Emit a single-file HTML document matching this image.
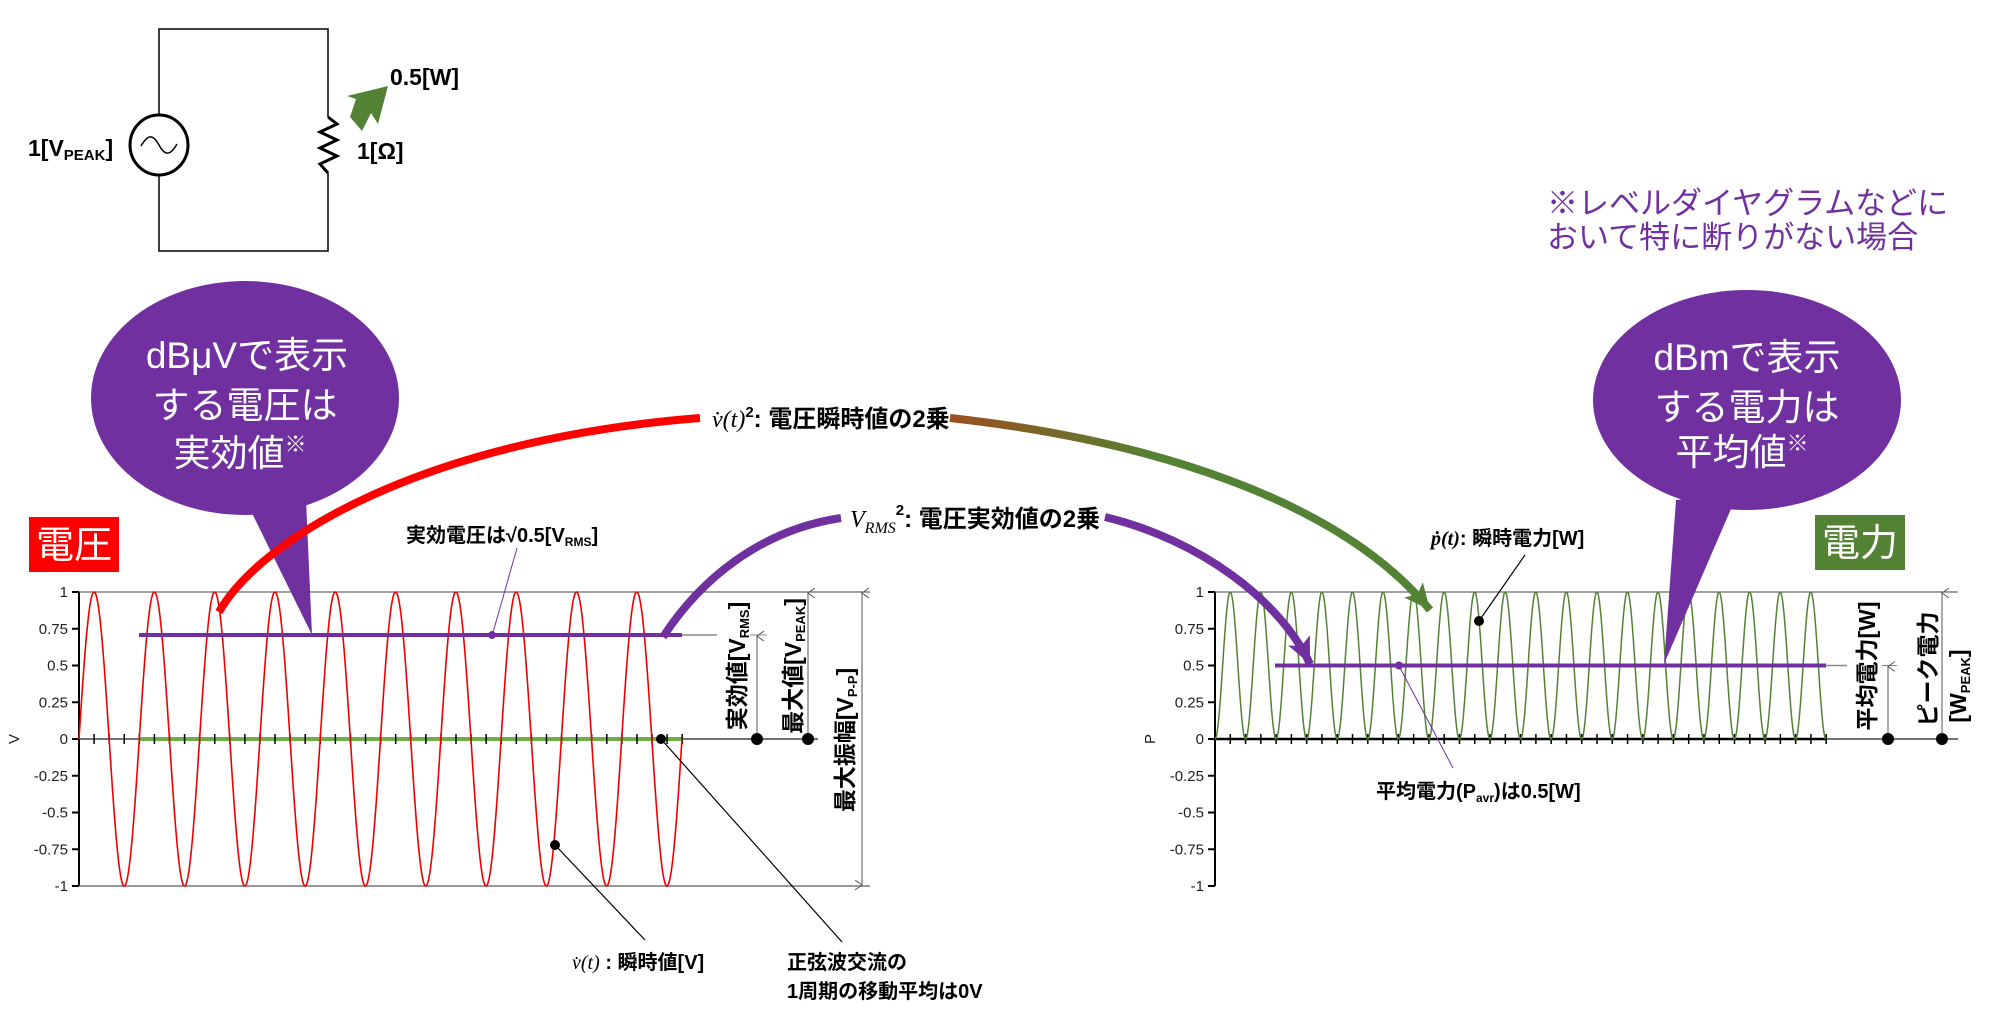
<!DOCTYPE html>
<html><head><meta charset="utf-8">
<style>
html,body{margin:0;padding:0;background:#fff;width:2000px;height:1014px;overflow:hidden}
svg{display:block}
text{font-family:"Liberation Sans Narrow","Liberation Sans","Noto Sans CJK JP",sans-serif}
.b{font-weight:bold}
.ax{font-size:15px;fill:#222}
.cj{font-family:"Liberation Sans","Noto Sans CJK JP",sans-serif}
</style></head>
<body>
<svg id="s" width="2000" height="1014" viewBox="0 0 2000 1014" xmlns="http://www.w3.org/2000/svg">
<defs>
<linearGradient id="gb" gradientUnits="userSpaceOnUse" x1="950" y1="0" x2="1160" y2="0">
<stop offset="0" stop-color="#9a4f1e"/><stop offset="1" stop-color="#548235"/></linearGradient>
<marker id="ag" markerUnits="userSpaceOnUse" markerWidth="30" markerHeight="30" refX="26" refY="12" orient="auto"><path d="M0,0 L26,12 L0,24 L6,12Z" fill="#548235"/></marker>
<marker id="ap" markerUnits="userSpaceOnUse" markerWidth="30" markerHeight="30" refX="26" refY="12" orient="auto"><path d="M0,0 L26,12 L0,24 L6,12Z" fill="#7030A0"/></marker>
<marker id="ah" markerUnits="userSpaceOnUse" markerWidth="12" markerHeight="12" refX="5" refY="1" orient="auto-start-reverse"><path d="M0,8 L5,1 L10,8" fill="none" stroke="#555" stroke-width="1"/></marker>
</defs>

<!-- circuit -->
<g stroke="#000" fill="none">
<path d="M159,115 V29 H328 V117 M328,173 V251 H159 V175" stroke-width="1.5"/>
<ellipse cx="159" cy="145" rx="29" ry="30" stroke-width="3" fill="#fff"/>
<path d="M141,146 C148,134 153,134 159,145 C165,156 170,156 177,144" stroke-width="1.5"/>
<path d="M328,117 L337,124 L320,132 L337,140 L320,148 L337,156 L320,164 L328,173" stroke-width="3"/>
</g>
<polygon points="350,117 356,99 347,96 388,86 378,124 371,113 362,131" fill="#548235"/>
<text x="28" y="156" font-size="23" class="b">1[V<tspan font-size="15" dy="4">PEAK</tspan><tspan dy="-4">]</tspan></text>
<text x="357" y="159" font-size="23" class="b">1[Ω]</text>
<text x="390" y="85" font-size="23" class="b">0.5[W]</text>

<!-- note -->
<text class="cj" x="1547" y="214" font-size="31" fill="#7030A0">※レベルダイヤグラムなどに</text>
<text class="cj" x="1547" y="248" font-size="31" fill="#7030A0">おいて特に断りがない場合</text>

<!-- left chart axes -->
<g id="left"></g>
<g id="right"></g>

<!-- bubbles -->
<g fill="#7030A0">
<ellipse cx="245" cy="398" rx="154" ry="117"/>
<polygon points="248,505 306,500 312,635"/>
<ellipse cx="1747" cy="400" rx="154" ry="110"/>
<polygon points="1676,500 1737,495 1664,664"/>
</g>
<g class="cj" fill="#fff" font-size="37" text-anchor="middle">
<text x="247" y="368">dBμVで表示</text>
<text x="245" y="418">する電圧は</text>
<text x="240" y="466">実効値<tspan font-size="22" dy="-14">※</tspan></text>
<text x="1747" y="370">dBmで表示</text>
<text x="1747" y="420">する電力は</text>
<text x="1742" y="465">平均値<tspan font-size="22" dy="-14">※</tspan></text>
</g>

<!-- title boxes -->
<rect x="29" y="517" width="90" height="55" fill="#f00"/>
<text class="cj" x="74" y="558" font-size="38" fill="#fff" text-anchor="middle">電圧</text>
<rect x="1815" y="515" width="90" height="55" fill="#548235"/>
<text class="cj" x="1860" y="556" font-size="38" fill="#fff" text-anchor="middle">電力</text>

<!-- curves -->
<path d="M219,612 C260,540 420,440 700,418" stroke="#f00" stroke-width="8" fill="none"/>
<path d="M950,418 C1150,440 1340,500 1430,610" stroke="url(#gb)" stroke-width="8" fill="none" marker-end="url(#ag)"/>
<path d="M663,637 C700,580 760,530 841,518" stroke="#7030A0" stroke-width="8" fill="none"/>
<path d="M1105,517 C1200,540 1280,600 1310,664" stroke="#7030A0" stroke-width="8" fill="none" marker-end="url(#ap)"/>

<text x="712" y="427" font-size="24" class="b"><tspan font-family="Liberation Serif" font-style="italic" font-weight="normal">v̇(t)</tspan><tspan font-size="15" dy="-10">2</tspan><tspan dy="10">: 電圧瞬時値の2乗</tspan></text>
<text x="850" y="527" font-size="24" class="b"><tspan font-family="Liberation Serif" font-style="italic" font-weight="normal">V<tspan font-size="16" dy="6">RMS</tspan></tspan><tspan font-size="15" dy="-18">2</tspan><tspan dy="12">: 電圧実効値の2乗</tspan></text>

<!-- labels -->
<text x="406" y="542" font-size="20" class="b">実効電圧は√0.5[V<tspan font-size="12" dy="4">RMS</tspan><tspan dy="-4">]</tspan></text>
<line x1="517" y1="548" x2="492" y2="636" stroke="#7030A0" stroke-width="1"/>
<text x="572" y="969" font-size="20" class="b"><tspan font-family="Liberation Serif" font-style="italic" font-weight="normal">v̇(t)</tspan> : 瞬時値[V]</text>
<text x="787" y="969" font-size="20" class="b">正弦波交流の</text>
<text x="787" y="998" font-size="20" class="b">1周期の移動平均は0V</text>
<line x1="555" y1="845" x2="645" y2="940" stroke="#000" stroke-width="1.2"/>
<circle cx="555" cy="845" r="5"/>
<line x1="661" y1="739" x2="842" y2="942" stroke="#000" stroke-width="1.2"/>
<circle cx="661" cy="739" r="5"/>

<text x="1431" y="545" font-size="20" class="b"><tspan font-family="Liberation Serif" font-style="italic">ṗ(t)</tspan>: 瞬時電力[W]</text>
<line x1="1479" y1="621" x2="1525" y2="555" stroke="#000" stroke-width="1.2"/>
<circle cx="1479" cy="621" r="5"/>
<text x="1376" y="798" font-size="20" class="b">平均電力(P<tspan font-size="12" dy="4">avr</tspan><tspan dy="-4">)は0.5[W]</tspan></text>
<line x1="1399" y1="666" x2="1453" y2="768" stroke="#7030A0" stroke-width="1"/>
</svg>
<script>
(function(){
var NS="http://www.w3.org/2000/svg";
function el(p,n,a,t){var e=document.createElementNS(NS,n);for(var k in a)e.setAttribute(k,a[k]);if(t!=null)e.textContent=t;p.appendChild(e);return e;}
var Y0=739,U=147;
function axes(g,x0,xg,name){
 var labs=["1","0.75","0.5","0.25","0","-0.25","-0.5","-0.75","-1"];
 el(g,"line",{x1:x0,y1:Y0-U,x2:x0,y2:Y0+U,stroke:"#000","stroke-width":2});
 for(var i=0;i<9;i++){var y=Y0-U+i*U/4;
  el(g,"line",{x1:x0-7,y1:y,x2:x0,y2:y,stroke:"#000","stroke-width":2});
  el(g,"text",{x:x0-11,y:y+5,"text-anchor":"end","class":"ax"},labs[i]);}
 var t=el(g,"text",{x:0,y:0,"class":"ax","transform":"translate("+(x0-60)+","+Y0+") rotate(-90)","text-anchor":"middle"},name);
}
var L=document.getElementById("left");
axes(L,79,870,"V");
el(L,"line",{x1:79,y1:Y0-U,x2:870,y2:Y0-U,stroke:"#444","stroke-width":1});
el(L,"line",{x1:79,y1:Y0+U,x2:870,y2:Y0+U,stroke:"#777","stroke-width":1.5});
el(L,"line",{x1:79,y1:Y0,x2:818,y2:Y0,stroke:"#444","stroke-width":1.5});
var yr=Y0-U*0.7071;
el(L,"line",{x1:680,y1:yr,x2:717,y2:yr,stroke:"#888","stroke-width":1.5});
el(L,"line",{x1:750,y1:yr,x2:767,y2:yr,stroke:"#888","stroke-width":1});
el(L,"line",{x1:139,y1:Y0,x2:682,y2:Y0,stroke:"#70ad47","stroke-width":4});
for(var x=79;x<=683;x+=15.08){el(L,"line",{x1:x,y1:Y0-5,x2:x,y2:Y0+5,stroke:"#000","stroke-width":1.5});}
var d="";for(var x=79;x<=682;x+=0.5){var y=Y0-U*Math.sin(2*Math.PI*(x-79)/60.3);d+=(d?"L":"M")+x.toFixed(1)+","+y.toFixed(1);}
el(L,"path",{d:d,stroke:"#e00",fill:"none","stroke-width":1.6});
el(L,"line",{x1:139,y1:yr,x2:682,y2:yr,stroke:"#7030A0","stroke-width":4});
el(L,"circle",{cx:492,cy:yr,r:4,fill:"#7030A0"});
el(L,"line",{x1:757,y1:Y0,x2:757,y2:yr+1,stroke:"#555","stroke-width":1,"marker-end":"url(#ah)"});
el(L,"line",{x1:808,y1:Y0,x2:808,y2:Y0-U+1,stroke:"#555","stroke-width":1,"marker-end":"url(#ah)"});
el(L,"line",{x1:862,y1:Y0+U-1,x2:862,y2:Y0-U+1,stroke:"#555","stroke-width":1,"marker-end":"url(#ah)","marker-start":"url(#ah)"});
el(L,"circle",{cx:757,cy:Y0,r:6});el(L,"circle",{cx:808,cy:Y0,r:6});
function vt(g,cx,cy,main,sub,tail,fs){var t=el(g,"text",{x:0,y:0,"font-size":fs||23,"class":"b","text-anchor":"middle","transform":"translate("+cx+","+cy+") rotate(-90)"});
 t.appendChild(document.createTextNode(main));if(sub){el(t,"tspan",{"font-size":13,dy:4},sub);el(t,"tspan",{dy:-4},tail);}return t;}
vt(L,745,666,"実効値[V","RMS","]");
vt(L,801,666,"最大値[V","PEAK","]");
vt(L,853,740,"最大振幅[V","P-P","]");

var R=document.getElementById("right");
axes(R,1215,1958,"P");
el(R,"line",{x1:1215,y1:Y0-U,x2:1958,y2:Y0-U,stroke:"#444","stroke-width":1});
el(R,"line",{x1:1215,y1:Y0,x2:1958,y2:Y0,stroke:"#444","stroke-width":1.5});
el(R,"line",{x1:1215,y1:Y0,x2:1826,y2:Y0,stroke:"#000","stroke-width":2.5});
for(var x=1215;x<=1827;x+=15.28){el(R,"line",{x1:x,y1:Y0-5,x2:x,y2:Y0+5,stroke:"#000","stroke-width":1.5});}
var d2="";for(var x=1215;x<=1826;x+=0.4){var s=Math.sin(Math.PI*(x-1215)/30.55);var y=Y0-U*s*s;d2+=(d2?"L":"M")+x.toFixed(1)+","+y.toFixed(1);}
el(R,"path",{d:d2,stroke:"#548235",fill:"none","stroke-width":1.5});
var yh=Y0-U/2;
el(R,"line",{x1:1826,y1:yh,x2:1847,y2:yh,stroke:"#888","stroke-width":1.5});
el(R,"line",{x1:1882,y1:yh,x2:1897,y2:yh,stroke:"#888","stroke-width":1});
el(R,"line",{x1:1275,y1:yh,x2:1826,y2:yh,stroke:"#7030A0","stroke-width":4});
el(R,"circle",{cx:1399,cy:yh,r:4,fill:"#7030A0"});
el(R,"line",{x1:1888,y1:Y0,x2:1888,y2:yh+1,stroke:"#555","stroke-width":1,"marker-end":"url(#ah)"});
el(R,"line",{x1:1942,y1:Y0,x2:1942,y2:Y0-U+1,stroke:"#555","stroke-width":1,"marker-end":"url(#ah)"});
el(R,"circle",{cx:1888,cy:Y0,r:6});el(R,"circle",{cx:1942,cy:Y0,r:6});
vt(R,1875,666,"平均電力[W]",null,null,23);
vt(R,1936,669,"ピーク電力",null,null,23);
vt(R,1966,686,"[W","PEAK","]",23);
})();
</script>
</body></html>
